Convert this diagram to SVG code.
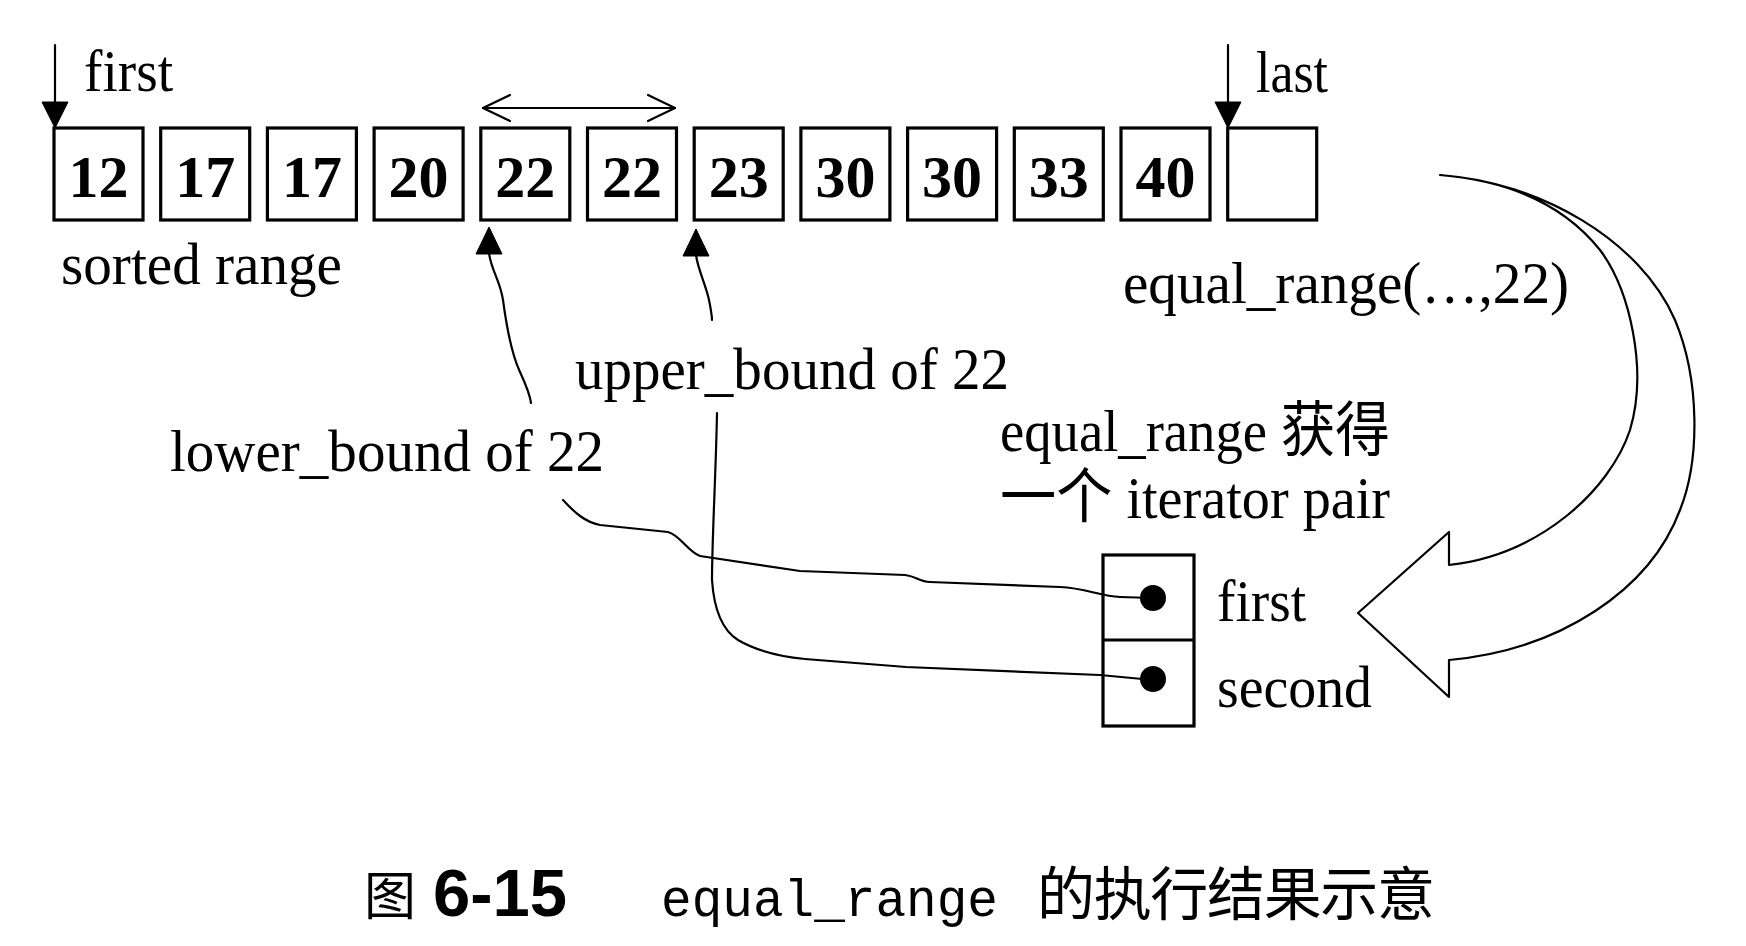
<svg xmlns="http://www.w3.org/2000/svg" width="1746" height="946" viewBox="0 0 1746 946">
<style>
.bg{fill:#fff}
.box{fill:#fff;stroke:#000;stroke-width:3.2}
.num{font-family:"Liberation Serif","Times New Roman",serif;font-weight:bold;font-size:60px;text-anchor:middle;fill:#000}
.lbl{font-family:"Liberation Serif","Times New Roman","Noto Sans CJK SC",serif;font-size:60px;fill:#000}
.ln{fill:none;stroke:#000;stroke-width:2.2;stroke-linecap:round;stroke-linejoin:round}
.hd{fill:#000;stroke:#000;stroke-width:1}
.dot{fill:#000}
.cjk{font-family:"Noto Sans CJK SC",sans-serif;fill:#000}
</style>
<rect class="bg" x="0" y="0" width="1746" height="946"/>

<g id="cells">
<g id="c0"><rect class="box" x="54" y="128" width="89" height="92"/><text class="num" x="98.5" y="197">12</text></g>
<g id="c1"><rect class="box" x="160.7" y="128" width="89" height="92"/><text class="num" x="205.2" y="197">17</text></g>
<g id="c2"><rect class="box" x="267.4" y="128" width="89" height="92"/><text class="num" x="311.9" y="197">17</text></g>
<g id="c3"><rect class="box" x="374.1" y="128" width="89" height="92"/><text class="num" x="418.6" y="197">20</text></g>
<g id="c4"><rect class="box" x="480.8" y="128" width="89" height="92"/><text class="num" x="525.3" y="197">22</text></g>
<g id="c5"><rect class="box" x="587.5" y="128" width="89" height="92"/><text class="num" x="632" y="197">22</text></g>
<g id="c6"><rect class="box" x="694.2" y="128" width="89" height="92"/><text class="num" x="738.7" y="197">23</text></g>
<g id="c7"><rect class="box" x="800.9" y="128" width="89" height="92"/><text class="num" x="845.4" y="197">30</text></g>
<g id="c8"><rect class="box" x="907.6" y="128" width="89" height="92"/><text class="num" x="952.1" y="197">30</text></g>
<g id="c9"><rect class="box" x="1014.3" y="128" width="89" height="92"/><text class="num" x="1058.8" y="197">33</text></g>
<g id="c10"><rect class="box" x="1121" y="128" width="89" height="92"/><text class="num" x="1165.5" y="197">40</text></g>
<g id="c11"><rect class="box" x="1227.7" y="128" width="89" height="92"/></g>
</g>

<g id="labels">
<text class="lbl" x="84" y="91" textLength="89" lengthAdjust="spacingAndGlyphs">first</text>
<text class="lbl" x="1256" y="92" textLength="72" lengthAdjust="spacingAndGlyphs">last</text>
<text class="lbl" x="61" y="284" textLength="281" lengthAdjust="spacingAndGlyphs">sorted range</text>
<text class="lbl" x="1123" y="303" textLength="446" lengthAdjust="spacingAndGlyphs">equal_range(…,22)</text>
<text class="lbl" x="575" y="389" textLength="434" lengthAdjust="spacingAndGlyphs">upper_bound of 22</text>
<text class="lbl" x="170" y="471" textLength="434" lengthAdjust="spacingAndGlyphs">lower_bound of 22</text>
<text class="lbl" x="1000" y="451" textLength="390" lengthAdjust="spacingAndGlyphs">equal_range 获得</text>
<text class="lbl" x="1000" y="518" textLength="390" lengthAdjust="spacingAndGlyphs">一个 iterator pair</text>
</g>

<g id="pair">
<rect class="box" x="1103" y="555" width="91" height="171"/>
<line class="box" x1="1103" y1="640" x2="1194" y2="640"/>
<circle class="dot" cx="1153" cy="598" r="13"/>
<circle class="dot" cx="1153" cy="679" r="13"/>
<text class="lbl" x="1217" y="621" textLength="89" lengthAdjust="spacingAndGlyphs">first</text>
<text class="lbl" x="1217" y="707" textLength="155" lengthAdjust="spacingAndGlyphs">second</text>
</g>

<g id="connectors">
<line class="ln" x1="55" y1="45" x2="55" y2="104"/>
<polygon class="hd" points="42,102 68,102 55,128"/>
<line class="ln" x1="1228" y1="45" x2="1228" y2="104"/>
<polygon class="hd" points="1215,102 1241,102 1228,128"/>
<line class="ln" x1="483" y1="108" x2="675" y2="108"/>
<polyline class="ln" points="510,95 483,108 510,121"/>
<polyline class="ln" points="648,95 675,108 648,121"/>
<polygon class="hd" points="489,227 476,254 502,254"/>
<path class="ln" d="M489,253 C491,270 500,280 503,300 C507,330 512,355 520,372 C526,385 530,395 531,403"/>
<polygon class="hd" points="696,229 683,256 709,256"/>
<path class="ln" d="M696,255 C698,270 706,285 709,300 C711,310 712,315 712,320"/>
<path class="ln" d="M563,500 C575,513 585,522 600,525 L668,532 C680,535 688,552 700,556 L800,571 L905,575 C915,576 920,582 930,582 L1060,587 C1085,588 1100,596 1120,597 L1153,598"/>
<path class="ln" d="M717,413 C716,470 712,540 712,580 C714,610 722,630 738,640 C755,650 775,656 805,659 L906,667 L1100,675 L1153,680"/>
<path class="ln" d="M1440,175 C1540,182 1640,240 1675,320 C1700,380 1700,460 1680,510 C1650,590 1560,650 1449,660 L1449,697 L1358,613 L1449,532 L1449,565 C1540,555 1610,490 1630,430 C1648,370 1630,290 1600,250 C1560,200 1500,180 1440,175 Z"/>
</g>

<g id="caption">
<text class="cjk" x="364" y="915" font-size="52">图</text>
<text x="433" y="916" font-family="Liberation Sans, Arial, sans-serif" font-weight="bold" font-size="66" textLength="134" lengthAdjust="spacingAndGlyphs">6-15</text>
<text x="661" y="916" font-family="Liberation Mono, Courier New, monospace" font-size="51" textLength="337" lengthAdjust="spacingAndGlyphs">equal_range</text>
<text class="cjk" x="1037" y="915" font-size="58" textLength="398" lengthAdjust="spacing">的执行结果示意</text>
</g>
</svg>
